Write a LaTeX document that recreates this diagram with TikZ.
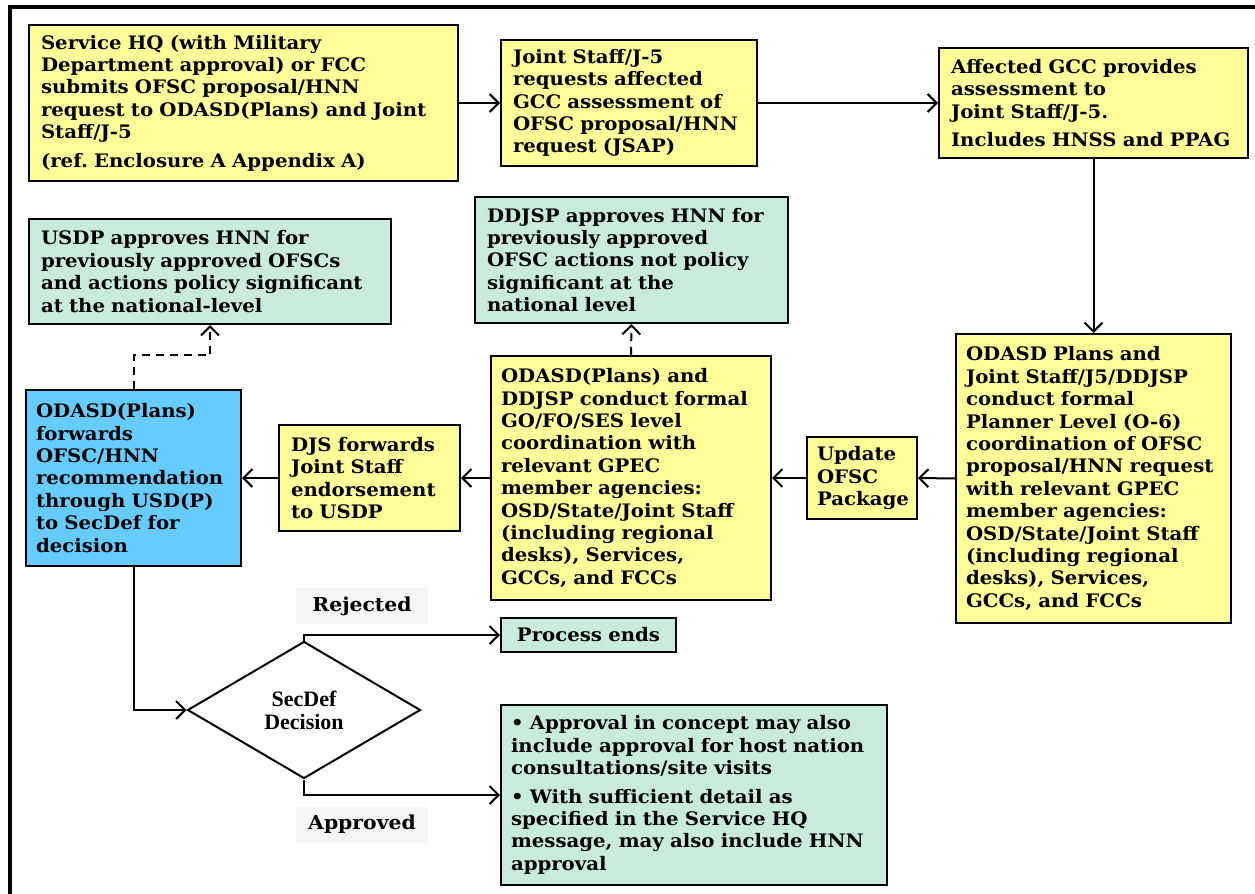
\documentclass[tikz,border=0pt]{standalone}
\usepackage{fontspec}
\setmainfont{DejaVu Serif}[FakeStretch=1.06]
\newfontfamily\decisionfont{Liberation Serif}
\usetikzlibrary{positioning,shapes.geometric,arrows.meta}

\definecolor{boxyellow}{HTML}{FFFF99}
\definecolor{boxgreen}{HTML}{C9EBDC}
\definecolor{boxblue}{HTML}{66CCFF}
\definecolor{labelgray}{HTML}{F5F5F5}
\frenchspacing

\begin{document}
\begin{tikzpicture}[
    x=0.5pt, y=-0.5pt,
    box/.style={rectangle, draw, line width=1pt, anchor=north west, align=left, inner xsep=7pt, inner ysep=0pt, font=\bfseries\fontsize{9.3}{11.2}\selectfont},
    ybox/.style={box, fill=boxyellow},
    gbox/.style={box, fill=boxgreen},
    bbox/.style={box, fill=boxblue},
    decision/.style={diamond, draw, line width=1pt, fill=white, minimum width=116.5pt, minimum height=68.5pt, inner sep=0pt, aspect=1.7, align=center, font=\decisionfont\bfseries\fontsize{11}{11.5}\selectfont},
    tag/.style={rectangle, fill=labelgray, minimum width=66pt, minimum height=18pt, font=\bfseries\fontsize{9.6}{11.2}\selectfont},
    arrow/.style={-{Straight Barb[length=4.5pt,width=9pt]}, line width=1pt},
    dashline/.style={dash pattern=on 4pt off 3pt}
]
\useasboundingbox (0,0) rectangle (1255,894);
\fill[white] (0,0) rectangle (1255,894);

% frame round the chart
\draw[line width=2pt] (1270,7) -- (9.5,7) -- (9.5,910);

% top row
\node[ybox, minimum width=214.5pt, minimum height=78pt, text width=202.5pt, inner xsep=6pt] (submit) at (28,24) {Service HQ (with Military\\Department approval) or FCC\\submits OFSC proposal/HNN\\request to ODASD(Plans) and Joint\\Staff/J-5\\[3pt](ref. Enclosure A Appendix A)};
\node[ybox, minimum width=128pt, minimum height=63pt, text width=116pt, inner xsep=6pt] (request) at (500,39) {Joint Staff/J-5\\requests affected\\GCC assessment of\\OFSC proposal/HNN\\request (JSAP)};
\node[ybox, minimum width=154.5pt, minimum height=55pt, text width=142.5pt, inner xsep=6pt] (assess) at (938,47) {Affected GCC provides\\assessment to\\Joint Staff/J-5.\\[3pt]Includes HNSS and PPAG};

% approvals
\node[gbox, minimum width=181pt, minimum height=52.5pt, text width=169pt, inner xsep=6pt] (usdp) at (28,218) {USDP approves HNN for\\previously approved OFSCs\\and actions policy significant\\at the national-level};
\node[gbox, minimum width=156.5pt, minimum height=63pt, text width=144.5pt, inner xsep=6pt] (ddjsp) at (474,196) {DDJSP approves HNN for\\previously approved\\OFSC actions not policy\\significant at the\\national level};

% coordination row
\node[ybox, minimum width=137.5pt, minimum height=144.5pt, text width=127.5pt, inner xsep=5pt] (planner) at (955,333) {ODASD Plans and\\Joint Staff/J5/DDJSP\\conduct formal\\Planner Level (O-6)\\coordination of OFSC\\proposal/HNN request\\with relevant GPEC\\member agencies:\\OSD/State/Joint Staff\\(including regional\\desks), Services,\\GCCs, and FCCs};
\node[ybox, minimum width=55pt, minimum height=41pt, text width=45pt, inner xsep=5pt] (update) at (806,436) {Update\\OFSC\\Package};
\node[ybox, minimum width=140pt, minimum height=122pt, text width=130pt, inner xsep=5pt] (gofo) at (490,355) {ODASD(Plans) and\\DDJSP conduct formal\\GO/FO/SES level\\coordination with\\relevant GPEC\\member agencies:\\OSD/State/Joint Staff\\(including regional\\desks), Services,\\GCCs, and FCCs};
\node[ybox, minimum width=90.5pt, minimum height=53pt, text width=78.5pt, inner xsep=6pt] (djs) at (278,424) {DJS forwards\\Joint Staff\\endorsement\\to USDP};
\node[bbox, minimum width=107.5pt, minimum height=88pt, text width=97.5pt, inner xsep=5pt] (forward) at (25,389) {ODASD(Plans)\\forwards\\OFSC/HNN\\recommendation\\through USD(P)\\to SecDef for\\decision};

% decision
\node[decision] (secdef) at (304,710) {SecDef\\Decision};
\node[tag] (rejected) at (362,606) {Rejected};
\node[tag] (approved) at (362,824.5) {Approved};
\node[gbox, minimum width=87.5pt, minimum height=17pt, text width=77pt, inner xsep=5.25pt, align=center] (ends) at (500,617) {Process ends};
\node[gbox, minimum width=193pt, minimum height=90pt, text width=183pt, inner xsep=5pt] (approval) at (500,704) {\textbullet{} Approval in concept may also\\include approval for host nation\\consultations/site visits\\[3pt]\textbullet{} With sufficient detail as\\specified in the Service HQ\\message, may also include HNN\\approval};

% connectors
\draw[arrow] (submit.east) -- (request.west);
\draw[arrow] (request.east) -- (assess.west);
\draw[arrow] (assess.south) -- (planner.north);
\draw[arrow] (planner.west) -- (update.east);
\draw[arrow] (update.west) -- (gofo.east);
\draw[arrow] (gofo.west) -- (djs.east);
\draw[arrow] (djs.west) -- (forward.east);
\draw[arrow, dashline] (gofo.north) -- (ddjsp.south);
\draw[arrow, dashline] (forward.north) -- ++(0,-34) -| (usdp.south);
\draw[arrow] (forward.south) |- (secdef.west);
\draw[arrow] (secdef.north) |- (ends.west);
\draw[arrow] (secdef.south) |- (approval.west);

\end{tikzpicture}
\end{document}
